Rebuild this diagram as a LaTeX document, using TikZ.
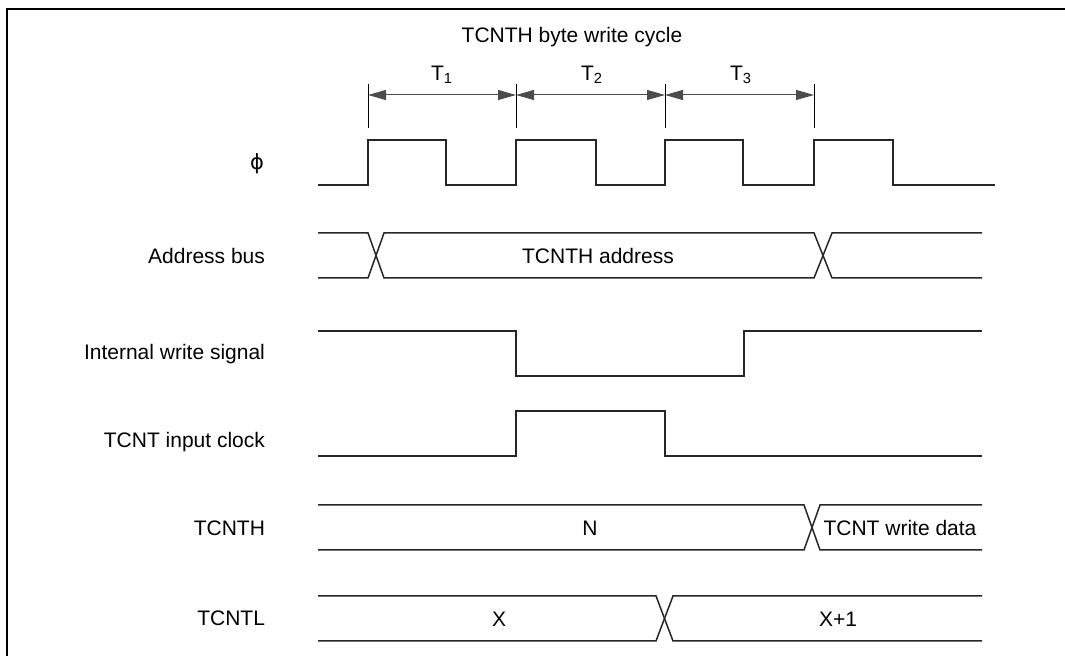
\documentclass[tikz,border=0pt]{standalone}
\usepackage{fontspec}
\setmainfont{Liberation Sans}
\newfontfamily\greekfont{DejaVu Sans}
\usepackage{tikz}
\usetikzlibrary{arrows.meta}

\tikzset{
  wave/.style={line width=0.75pt, color=black!85},
  tick/.style={line width=0.5pt},
  period/.style={line width=0.5pt, color=black!70, {Triangle[length=9pt, width=5pt]}-{Triangle[length=9pt, width=5pt]}},
  siglabel/.style={anchor=east}
}

\begin{document}
\begin{tikzpicture}[x=0.5pt, y=-0.5pt, font=\fontsize{10.5}{12}\selectfont]
\useasboundingbox (0,0) rectangle (1065,656);

% Frame
\draw[line width=1.3pt] (7,680) |- (1090,9);

% Title
\node (title) at (572,37) {TCNTH byte write cycle};

% Period markers
\coordinate (c0) at (368,95);
\coordinate (c1) at (516,95);
\coordinate (c2) at (665,95);
\coordinate (c3) at (814,95);
\foreach \x in {368,516,665,814}
  \draw[tick] (\x,84) -- (\x,128);
\draw[period] (c0) -- (c1);
\draw[period] (c1) -- (c2);
\draw[period] (c2) -- (c3);
\node (t1) at (442,75) {T\textsubscript{1}};
\node (t2) at (592,75) {T\textsubscript{2}};
\node (t3) at (741,75) {T\textsubscript{3}};

% Signal names
\node[siglabel] (phi) at (271,164) {\greekfont ϕ};
\node[siglabel] (addr) at (272,256) {Address bus};
\node[siglabel] (wr) at (272,354) {Internal write signal};
\node[siglabel] (clk) at (272,442) {TCNT input clock};
\node[siglabel] (tcnth) at (272,528) {TCNTH};
\node[siglabel] (tcntl) at (272,618) {TCNTL};

% phi
\draw[wave] (318,185) -| (368,140) -| (446,185) -| (516,140) -| (596,185)
  -| (665,140) -| (743,185) -| (814,140) -| (893,185) -- (995,185);

% Address bus
\draw[wave] (318,233) -- (368,233) -- (384,278) -- (814,278) -- (832,233) -- (982,233);
\draw[wave] (318,278) -- (368,278) -- (384,233) -- (814,233) -- (832,278) -- (982,278);
\node (addrval) at (598,256) {TCNTH address};

% Internal write signal
\draw[wave] (318,331) -| (516,376) -| (744,331) -- (982,331);

% TCNT input clock
\draw[wave] (318,456) -| (516,411) -| (665,456) -- (982,456);

% TCNTH
\draw[wave] (318,505) -- (804,505) -- (820,550) -- (982,550);
\draw[wave] (318,550) -- (804,550) -- (820,505) -- (982,505);
\node (nval) at (590,528) {N};
\node (wdata) at (900,528) {TCNT write data};

% TCNTL
\draw[wave] (318,596) -- (656,596) -- (673,641) -- (982,641);
\draw[wave] (318,641) -- (656,641) -- (673,596) -- (982,596);
\node (xval) at (499,619) {X};
\node (x1val) at (838,619) {X+1};

\end{tikzpicture}
\end{document}
